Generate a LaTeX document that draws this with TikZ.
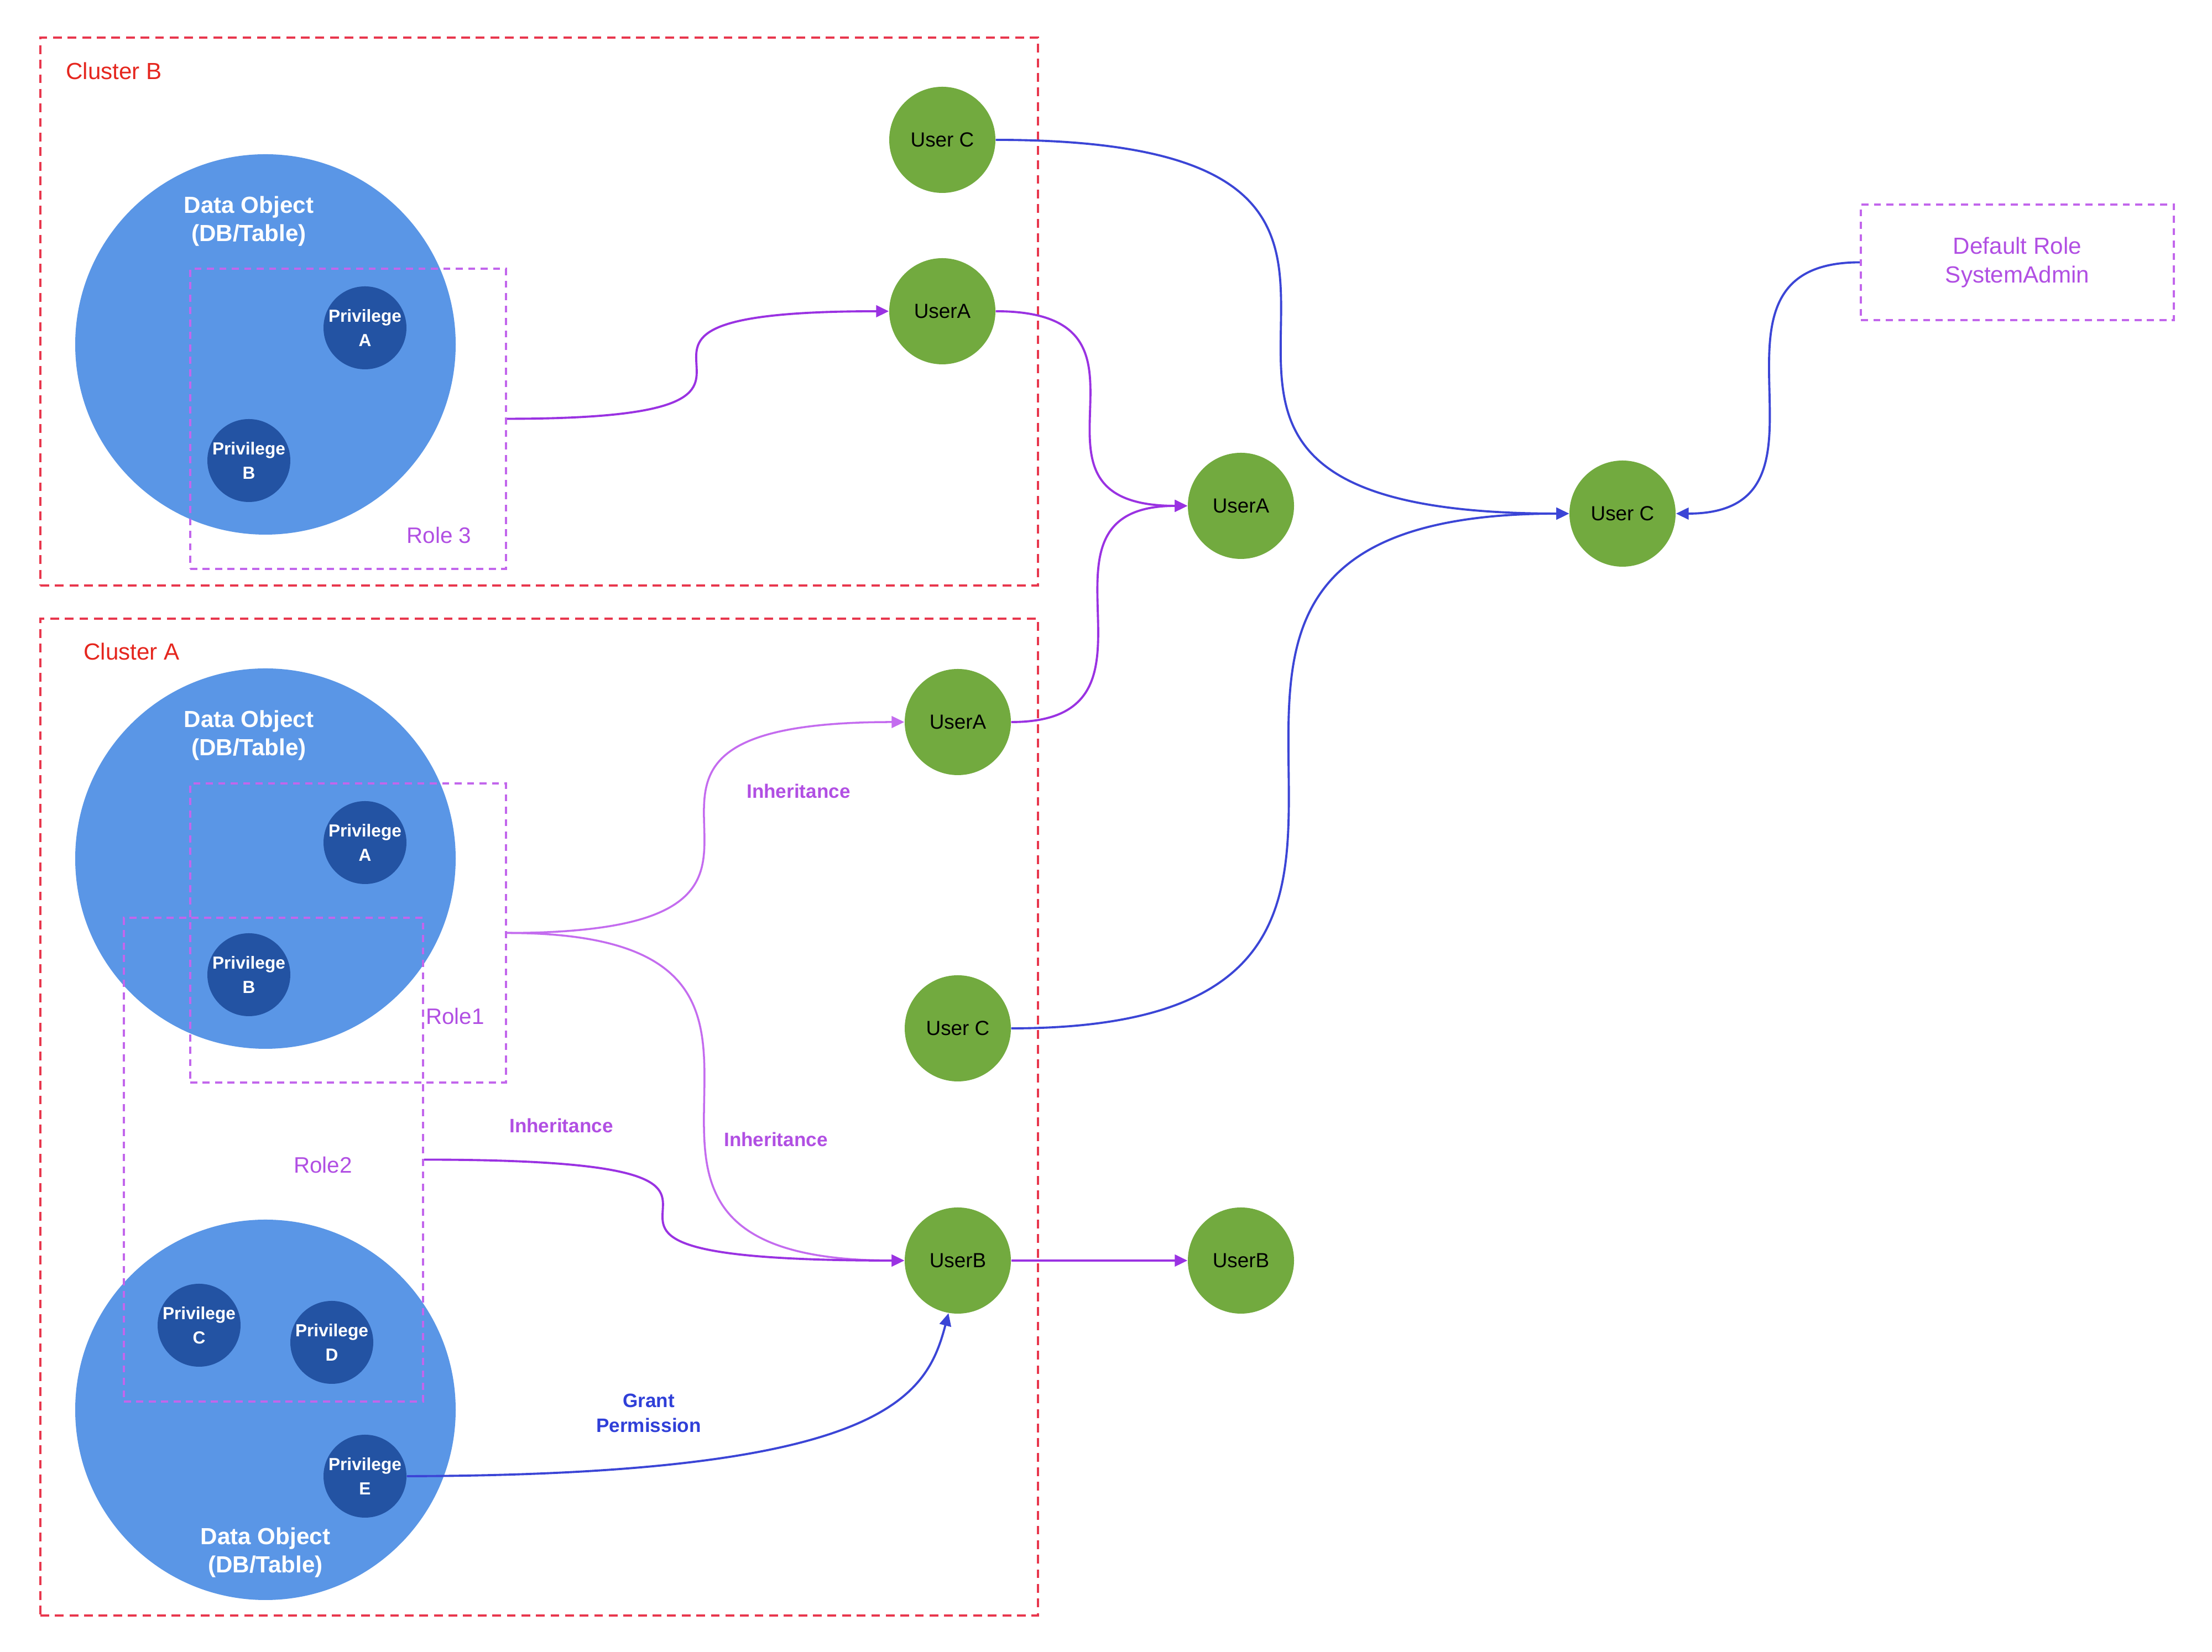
\documentclass[tikz,border=0pt]{standalone}
\usepackage{fontspec}
\setmainfont{Liberation Sans}
\usetikzlibrary{arrows.meta,calc}
\definecolor{objblue}{HTML}{5A96E6}
\definecolor{privblue}{HTML}{2353A3}
\definecolor{usergreen}{HTML}{72AA3F}
\definecolor{clusterred}{HTML}{E8374D}
\definecolor{clustertext}{HTML}{E5261E}
\definecolor{rolepurple}{HTML}{C266EC}
\definecolor{roletext}{HTML}{B14FE3}
\definecolor{edgepurple}{HTML}{9A32E2}
\definecolor{edgelilac}{HTML}{C46CEF}
\definecolor{edgeblue}{HTML}{3B45D6}
\definecolor{granttext}{HTML}{2F3FD8}
\tikzset{
  purplearrow/.style={-{Triangle[length=6.5pt,width=6pt]}, line width=1.1pt, edgepurple},
  lilacarrow/.style={-{Triangle[length=6.5pt,width=6pt]}, line width=1.0pt, edgelilac},
  bluearrow/.style={-{Triangle[length=6.5pt,width=6pt]}, line width=1.1pt, edgeblue},
  sbend/.style={to path={.. controls (\tikztostart -| \tikztotarget) and (\tikztotarget -| \tikztostart) .. (\tikztotarget) \tikztonodes}},
  clusterbox/.style={draw=clusterred, line width=1.3pt, dash pattern=on 4.5pt off 3pt, inner sep=0pt},
  rolebox/.style={draw=rolepurple, line width=1.2pt, dash pattern=on 3.6pt off 2.8pt, inner sep=0pt},
  dataobj/.style={circle, fill=objblue, minimum size=6.88cm, inner sep=0pt},
  objtext/.style={text=white, font=\fontsize{12}{14.4}\selectfont\bfseries, align=center},
  privnode/.style={circle, fill=privblue, minimum size=1.5cm, inner sep=0pt, text=white, font=\fontsize{9}{12.5}\selectfont\bfseries, align=center},
  usernode/.style={circle, fill=usergreen, minimum size=1.92cm, inner sep=0pt, font=\fontsize{10.5}{12}\selectfont},
  clusterlabel/.style={text=clustertext, font=\fontsize{12}{14}\selectfont, anchor=west},
  rolelabel/.style={text=roletext, font=\fontsize{11.5}{14}\selectfont},
  inhlabel/.style={text=roletext, font=\fontsize{10}{12}\selectfont\bfseries},
  grantlabel/.style={text=granttext, font=\fontsize{10}{13}\selectfont\bfseries, align=center}
}
\begin{document}
\begin{tikzpicture}
  \fill[white] (0,0) rectangle (40,29.88);
  \useasboundingbox (0,0) rectangle (40,29.88);
  % clusters
  \node[clusterbox, minimum width=18.04cm, minimum height=9.91cm] (clusterB) at (9.75,24.245) {};
  \node[clusterbox, minimum width=18.04cm, minimum height=18.03cm] (clusterA) at (9.75,9.675) {};
  \node[clusterlabel] (clusterBlabel) at (1.07,28.60) {Cluster B};
  \node[clusterlabel] (clusterAlabel) at (1.39,18.10) {Cluster A};
  % data objects
  \node[dataobj] (objB) at (4.80,23.65) {};
  \node[dataobj] (objA1) at (4.80,14.35) {};
  \node[dataobj] (objA2) at (4.80,4.38) {};
  \node[objtext] (objBtext) at (4.50,25.88) {Data Object\\(DB/Table)};
  \node[objtext] (objA1text) at (4.50,16.58) {Data Object\\(DB/Table)};
  \node[objtext] (objA2text) at (4.80,1.80) {Data Object\\(DB/Table)};
  % roles
  \node[rolebox, minimum width=5.71cm, minimum height=5.43cm] (role3) at (6.295,22.305) {};
  \node[rolebox, minimum width=5.71cm, minimum height=5.41cm] (role1) at (6.295,13.005) {};
  \node[rolebox, minimum width=5.41cm, minimum height=8.75cm] (role2) at (4.945,8.905) {};
  \node[rolebox, minimum width=5.66cm, minimum height=2.09cm, text=roletext, font=\fontsize{12}{15}\selectfont, align=center] (defrole) at (36.48,25.135) {Default Role\\SystemAdmin};
  \node[rolelabel] (role3label) at (7.94,20.20) {Role 3};
  \node[rolelabel] (role1label) at (8.23,11.50) {Role1};
  \node[rolelabel] (role2label) at (5.84,8.81) {Role2};
  % privileges
  \node[privnode] (privBA) at (6.60,23.95) {Privilege\\A};
  \node[privnode] (privBB) at (4.50,21.55) {Privilege\\B};
  \node[privnode] (privA) at (6.60,14.64) {Privilege\\A};
  \node[privnode] (privB) at (4.50,12.25) {Privilege\\B};
  \node[privnode] (privC) at (3.60,5.91) {Privilege\\C};
  \node[privnode] (privD) at (6.00,5.60) {Privilege\\D};
  \node[privnode] (privE) at (6.60,3.18) {Privilege\\E};
  % users
  \node[usernode] (userCtop) at (17.04,27.35) {User C};
  \node[usernode] (userAtop) at (17.04,24.25) {UserA};
  \node[usernode] (userAmid) at (22.44,20.73) {UserA};
  \node[usernode] (userCright) at (29.34,20.59) {User C};
  \node[usernode] (userAa) at (17.32,16.82) {UserA};
  \node[usernode] (userCa) at (17.32,11.28) {User C};
  \node[usernode] (userBa) at (17.32,7.08) {UserB};
  \node[usernode] (userBout) at (22.44,7.08) {UserB};
  % connectors
  \draw[purplearrow] (role3.east) to[sbend] (userAtop.west);
  \draw[purplearrow] (userAtop.east) to[sbend] (userAmid.west);
  \draw[purplearrow] (userAa.east) to[sbend] (userAmid.west);
  \draw[bluearrow] (userCtop.east) to[sbend] (userCright.west);
  \draw[bluearrow] (userCa.east) to[sbend] (userCright.west);
  \draw[bluearrow] (defrole.west) to[sbend] (userCright.east);
  \draw[lilacarrow] (role1.east) to[sbend] (userAa.west);
  \draw[lilacarrow] (role1.east) to[sbend] (userBa.west);
  \draw[purplearrow] (role2.east) to[sbend] (userBa.west);
  \draw[purplearrow] (userBa.east) -- (userBout.west);
  \draw[bluearrow] (privE.east) .. controls (16.0,3.2) and (16.75,4.6) .. (userBa.260);
  % edge labels
  \node[inhlabel] (inh1) at (14.44,15.57) {Inheritance};
  \node[inhlabel] (inh2) at (10.15,9.52) {Inheritance};
  \node[inhlabel] (inh3) at (14.03,9.27) {Inheritance};
  \node[grantlabel] (grant) at (11.73,4.32) {Grant\\Permission};
\end{tikzpicture}
\end{document}
